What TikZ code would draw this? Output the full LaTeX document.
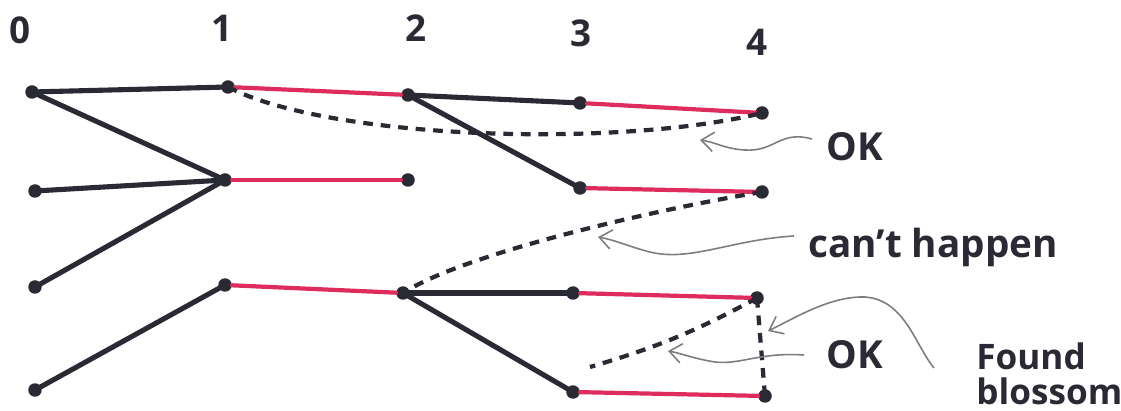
\documentclass[tikz,border=0pt]{standalone}
\usepackage{fontspec}
\setmainfont{Open Sans}
\usetikzlibrary{arrows.meta}
\definecolor{ink}{RGB}{42,42,52}
\definecolor{pinkred}{RGB}{222,44,92}
\definecolor{pen}{RGB}{125,125,125}
\tikzset{
  vtx/.style={circle,fill=ink,inner sep=0pt,minimum size=0.27cm},
  blk/.style={draw=ink,line width=2.9pt,line cap=round},
  redl/.style={draw=pinkred,line width=2.4pt,line cap=round},
  dsh/.style={draw=ink,line width=2.4pt,dash pattern=on 5.5pt off 4.5pt},
  note/.style={draw=pen,line width=0.9pt,-{Straight Barb[length=7pt,width=11pt]}},
  lbl/.style={font=\fontsize{21}{21}\selectfont\bfseries,text=ink,inner sep=0pt},
  txt/.style={font=\fontsize{22}{22}\selectfont\bfseries,text=ink,inner sep=0pt,align=left}
}
\begin{document}
\begin{tikzpicture}[x=0.02cm,y=-0.02cm]
\useasboundingbox (0,0) rectangle (1121,411);
% level labels
\node[lbl] (l0) at (20,30) {0};
\node[lbl] (l1) at (222,28) {1};
\node[lbl] (l2) at (416,28) {2};
\node[lbl] (l3) at (581,33) {3};
\node[lbl] (l4) at (757,42) {4};
% vertices
\node[vtx] (a0) at (32,92) {};
\node[vtx] (b1) at (228,87) {};
\node[vtx] (c2) at (408,95) {};
\node[vtx] (d3) at (580,103) {};
\node[vtx] (e4) at (762,113) {};
\node[vtx] (a1) at (35,191) {};
\node[vtx] (m1) at (225,180) {};
\node[vtx] (f2) at (408,180) {};
\node[vtx] (g3) at (580,188) {};
\node[vtx] (h4) at (762,192) {};
\node[vtx] (a2) at (35,287) {};
\node[vtx] (p1) at (225,285) {};
\node[vtx] (q2) at (403,293) {};
\node[vtx] (r3) at (573,293) {};
\node[vtx] (s4) at (757,298) {};
\node[vtx] (a3) at (35,390) {};
\node[vtx] (t3) at (573,392) {};
\node[vtx] (u4) at (765,396) {};
% black tree edges
\draw[blk] (a0.center) -- (b1.center);
\draw[blk] (a0.center) -- (m1.center);
\draw[blk] (a1.center) -- (m1.center);
\draw[blk] (a2.center) -- (m1.center);
\draw[blk] (a3.center) -- (p1.center);
\draw[blk] (c2.center) -- (d3.center);
\draw[blk] (c2.center) -- (g3.center);
\draw[blk] (q2.center) -- (r3.center);
\draw[blk] (q2.center) -- (t3.center);
% red matching edges
\draw[redl] (b1) -- (c2);
\draw[redl] (m1) -- (f2);
\draw[redl] (d3) -- (e4);
\draw[redl] (g3) -- (h4);
\draw[redl] (p1) -- (q2);
\draw[redl] (r3) -- (s4);
\draw[redl] (t3) -- (u4);
% dashed edges
\draw[dsh] (b1.center) .. controls (330,140) and (620,148) .. (e4.center);
\draw[dsh] (h4.center) .. controls (680,205) and (470,250) .. (q2.center);
\coordinate (bx) at (590,367);
\draw[dsh] (s4.center) to[bend left=6] (bx);
\draw[dsh] (s4.center) -- (u4.center);
% annotations
\node[txt,anchor=west] (ok1) at (826,147) {OK};
\node[txt,anchor=base west] (ch) at (808,258) {can't happen};
\node[txt,anchor=base west] (fb1) at (976,370) {\fontsize{20}{20}\selectfont Found};
\node[txt,anchor=base west] (fb2) at (976,404) {\fontsize{20}{20}\selectfont blossom};
\node[txt,anchor=west] (ok2) at (826,355) {OK};
\coordinate (t1) at (700,140);
\coordinate (t2) at (598,237);
\coordinate (t3b) at (668,351);
\coordinate (t4) at (768,331);
\draw[note] (812,139) .. controls (780,130) and (775,152) .. (745,150) .. controls (725,149) and (715,142) .. (t1);
\draw[note] (ch.west) ++(-14,-12) .. controls (730,240) and (690,262) .. (650,252) .. controls (630,247) and (615,240) .. (t2);
\draw[note] (ok2.west) ++(-22,0) .. controls (760,352) and (740,365) .. (715,362) .. controls (695,359) and (680,353) .. (t3b);
\draw[note] (934,368) .. controls (915,345) and (905,300) .. (865,297) .. controls (830,296) and (795,318) .. (t4);
\end{tikzpicture}
\end{document}
